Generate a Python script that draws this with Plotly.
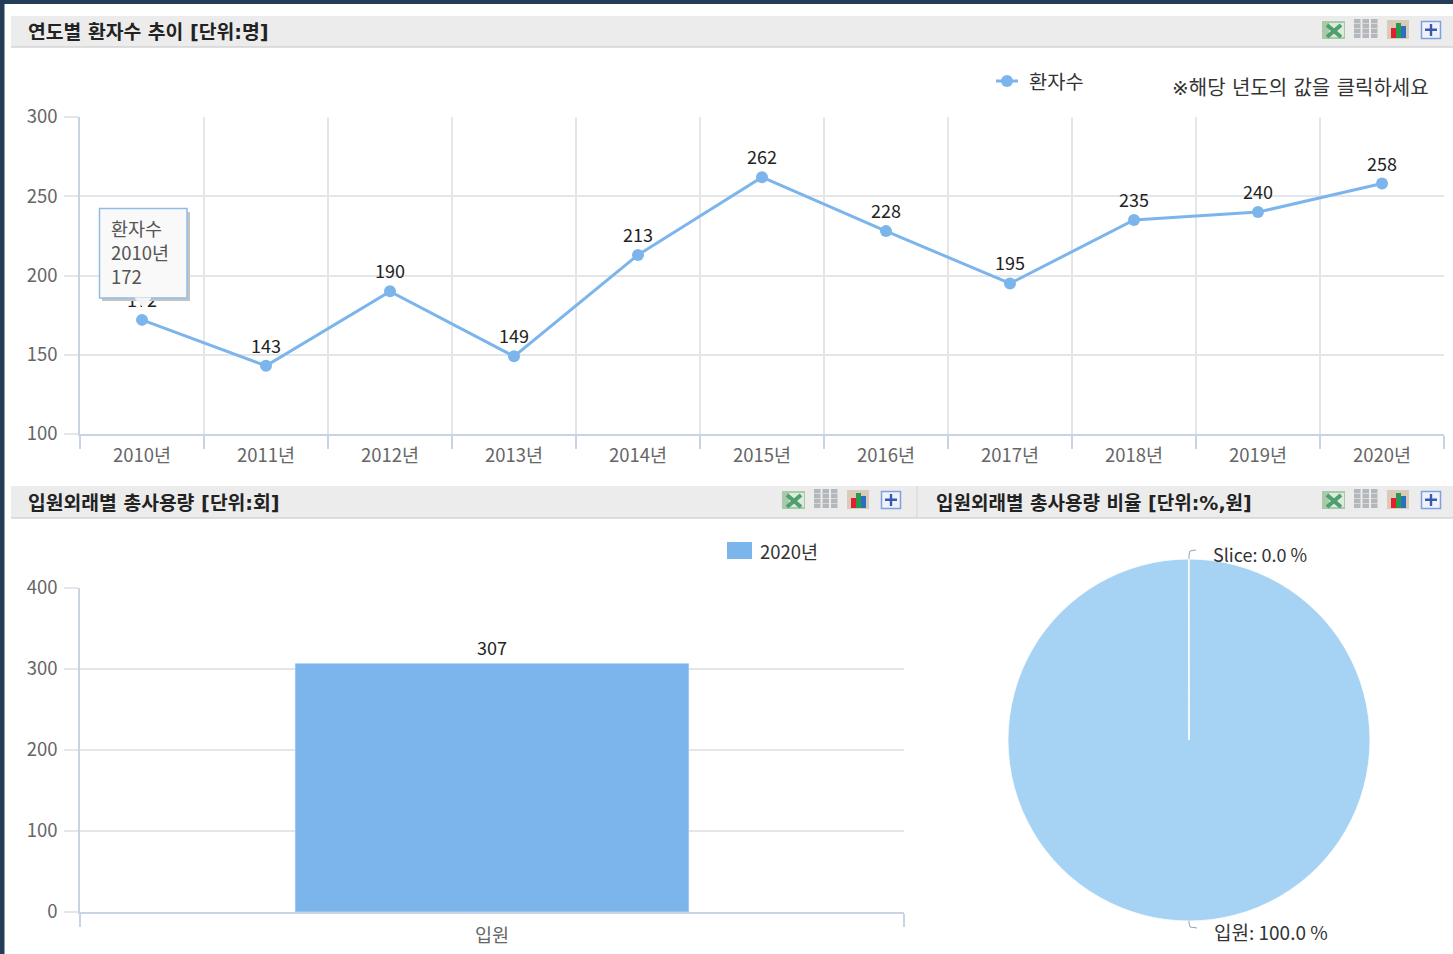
import plotly.graph_objects as go

years = ["2010년","2011년","2012년","2013년","2014년","2015년","2016년","2017년","2018년","2019년","2020년"]
patients = [172,143,190,149,213,262,228,195,235,240,258]
bar_cats = ["입원"]
bar_vals = [307]
pie_labels = ["입원","Slice"]
pie_vals = [100.0, 0.04]
line_ticks = [100,150,200,250,300]
bar_ticks = [0,100,200,300,400]
W, H = 1453, 954
FONT = "DejaVu Sans, Noto Sans CJK KR"
KFONT = "Noto Sans CJK KR"
BLUE = "#7cb5ec"
PIE = "#a6d2f3"
GRID = "#e4e6ea"
AXIS = "#c8d4e4"

def X(p): return p / W
def Y(p): return 1 - p / H

shapes, annots = [], []

def rect(x0, y0, x1, y1, fill, line=None, lw=0, layer="below"):
    shapes.append(dict(type="rect", xref="paper", yref="paper", x0=X(x0), x1=X(x1), y0=Y(y1), y1=Y(y0),
                       fillcolor=fill, line=dict(color=line or fill, width=lw), layer=layer))

def path(pts, close=False, fill=None, color="#999", lw=1, layer="above"):
    s = "M" + " L".join(f"{X(a):.5f},{Y(b):.5f}" for a, b in pts) + (" Z" if close else "")
    shapes.append(dict(type="path", xref="paper", yref="paper", path=s, fillcolor=fill,
                       line=dict(color=color, width=lw), layer=layer))

def text(x, y, s, size=17, color="#333", bold=False, anchor="left", family=KFONT):
    annots.append(dict(xref="paper", yref="paper", x=X(x - 2), y=Y(y), text=f"<b>{s}</b>" if bold else s,
                       showarrow=False, xanchor=anchor, yanchor="middle", align="left",
                       font=dict(family=family, size=size, color=color)))

def icons(ox, oy):
    # spreadsheet
    rect(ox+1, oy+3, ox+24, oy+21, "#a9c9a9", layer="above")
    rect(ox+8, oy+5, ox+23, oy+19, "#dcebdc", layer="above")
    path([(ox+6, oy+7), (ox+20, oy+19)], color="#4f9f6f", lw=4)
    path([(ox+20, oy+7), (ox+6, oy+19)], color="#4f9f6f", lw=4)
    # columns
    for i in range(3):
        rect(ox+33+i*8.5, oy+1, ox+39.5+i*8.5, oy+20, "#b4b8bc", layer="above")
        for j in range(3):
            rect(ox+33+i*8.5, oy+5+j*5, ox+39.5+i*8.5, oy+6+j*5, "#d8d8d8", layer="above")
    # bars
    rect(ox+66, oy+2, ox+88, oy+21, "#d9cbb8", layer="above")
    rect(ox+70, oy+10, ox+75, oy+20, "#e02030", layer="above")
    rect(ox+75, oy+5, ox+80, oy+20, "#2a9a50", layer="above")
    rect(ox+80, oy+8, ox+85, oy+20, "#2a6fc0", layer="above")
    # expand
    rect(ox+100.5, oy+3.5, ox+119.5, oy+20.5, "#eef2fb", line="#7f9fe0", lw=1.5, layer="above")
    rect(ox+104, oy+10.5, ox+116, oy+13, "#3a58b0", layer="above")
    rect(ox+108.8, oy+6, ox+111.2, oy+18, "#3a58b0", layer="above")

# page frame and header bands
rect(0, 0, W, 4, "#243c58")
rect(0, 0, 4.5, H, "#243c58")
rect(11, 16, W, 47, "#ececec")
path([(11, 47), (W, 47)], color="#d4d4d4", lw=1.5, layer="below")
rect(11, 486, W, 518, "#ececec")
path([(11, 518), (W, 518)], color="#d4d4d4", lw=1.5, layer="below")
path([(917, 486), (917, 518)], color="#d4d4d4", lw=1, layer="below")
text(28, 32, "연도별 환자수 추이 [단위:명]", size=19.3, color="#222", bold=True, family=FONT)
text(28, 503, "입원외래별 총사용량 [단위:회]", size=19.3, color="#222", bold=True, family=FONT)
text(936, 503, "입원외래별 총사용량 비율 [단위:%,원]", size=19, color="#222", bold=True, family=FONT)
icons(1321, 18); icons(781, 488); icons(1321, 488)
text(1172, 88, "※해당 년도의 값을 클릭하세요", size=20, color="#333", family=FONT)

# line legend
path([(996, 81), (1018, 81)], color=BLUE, lw=3, layer="below")
shapes.append(dict(type="circle", xref="paper", yref="paper", x0=X(1001), x1=X(1013), y0=Y(87), y1=Y(75),
                   fillcolor=BLUE, line=dict(color=BLUE, width=0), layer="below"))
text(1029, 81, "환자수", size=19.8, color="#333")

# bar legend
rect(727, 542, 752, 559, BLUE)
text(760, 551, "2020년", size=18.5, color="#333")

# tooltip
rect(102, 212, 190, 301, "#c4c4c4", layer="above")
rect(99.5, 208.5, 187, 298, "#f9f9f9", line="#8fbce8", lw=1.5, layer="above")
path([(135, 298), (143, 307), (151, 298)], close=True, fill="#f4f4f4", color="#f4f4f4", lw=1)
text(111, 252, "<br>".join(("환자수", years[0], str(patients[0]))), size=18.5, color="#555")

# pie leader lines and labels
path([(1189, 559), (1189, 555), (1190, 551), (1196, 550)], color="#8ea6bd", lw=1)
path([(1189, 921), (1189, 923), (1190, 927), (1197, 928)], color="#8ea6bd", lw=1)
text(1213, 554, f"{pie_labels[1]}: 0.0 %", size=18, color="#333")
text(1214, 931, f"{pie_labels[0]}: {pie_vals[0]:.1f} %", size=19, color="#333")

fig = go.Figure()
fig.add_trace(go.Scatter(x=years, y=patients, name="환자수", mode="lines+markers+text",
                         text=[str(v) for v in patients], textposition="top center",
                         textfont=dict(family=KFONT, size=18, color="#222"),
                         line=dict(color=BLUE, width=3), marker=dict(color=BLUE, size=12),
                         xaxis="x", yaxis="y", showlegend=False, cliponaxis=False))
fig.add_trace(go.Bar(x=bar_cats, y=bar_vals, name="2020년", width=0.478, marker=dict(color=BLUE),
                     text=[str(v) for v in bar_vals], textposition="outside", cliponaxis=False,
                     textfont=dict(family=KFONT, size=18, color="#222"),
                     xaxis="x2", yaxis="y2", showlegend=False))
r = 181
fig.add_trace(go.Pie(labels=pie_labels, values=pie_vals, sort=False, direction="clockwise", rotation=0,
                     marker=dict(colors=[PIE, PIE], line=dict(color="#ffffff", width=0.8)),
                     textinfo="none", showlegend=False,
                     domain=dict(x=[X(1189-r), X(1189+r)], y=[Y(740+r), Y(740-r)])))

tickfont = dict(family=KFONT, size=18.5, color="#666")
ax_x = dict(type="category", tickson="boundaries", showgrid=True, gridcolor=GRID, gridwidth=1.5,
            showline=True, linecolor=AXIS, linewidth=2, ticks="outside", ticklen=13, tickcolor=AXIS,
            tickwidth=1.5, tickfont=tickfont, zeroline=False, automargin=False)
ax_y = dict(showgrid=True, gridcolor=GRID, gridwidth=1.5, showline=True, linecolor=AXIS, linewidth=1.5,
            ticks="outside", ticklen=14, tickcolor=GRID, tickwidth=1.5, tickfont=tickfont, zeroline=False,
            ticklabelstandoff=3, automargin=False)

fig.update_layout(
    width=W, height=H, margin=dict(l=0, r=0, t=0, b=0), paper_bgcolor="white", plot_bgcolor="white",
    font=dict(family=KFONT), shapes=shapes, annotations=annots, hovermode=False,
    showlegend=False,
    xaxis=dict(domain=[X(80), X(1444)], anchor="y", range=[-0.5, 10.5], ticklabelstandoff=4, **ax_x),
    yaxis=dict(domain=[Y(434), Y(117)], anchor="x", range=[100, 300], tickvals=line_ticks, **ax_y),
    xaxis2=dict(domain=[X(80), X(904)], anchor="y2", range=[-0.5, 0.5], ticklabelstandoff=6, **ax_x),
    yaxis2=dict(domain=[Y(912), Y(588)], anchor="x2", range=[0, 400], tickvals=bar_ticks, **ax_y),
)
fig.write_html("out.html", config={"displayModeBar": False},
               post_script="document.body.style.margin='0';document.body.style.overflow='hidden';")
